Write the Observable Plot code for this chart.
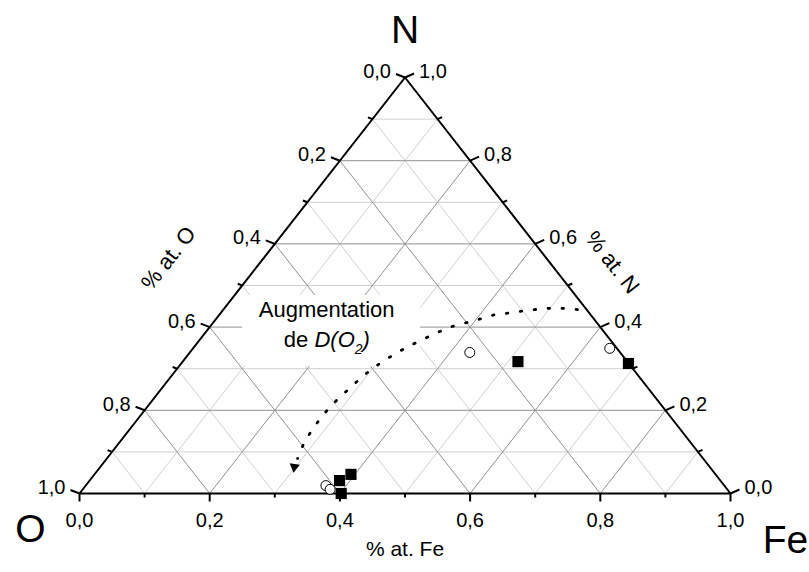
<!DOCTYPE html>
<html>
<head>
<meta charset="utf-8">
<script src="https://cdn.jsdelivr.net/npm/d3@7"></script>
<script src="https://cdn.jsdelivr.net/npm/@observablehq/plot@0.6"></script>
<style>
  html, body { margin: 0; padding: 0; background: white; }
</style>
</head>
<body>
<div id="chart"></div>
<script>
// ---- Data (ternary fractions: Fe, N; O = 1 - Fe - N) ----
const tickValues = [0, 0.1, 0.2, 0.3, 0.4, 0.5, 0.6, 0.7, 0.8, 0.9, 1.0];
const tickLabels = ["0,0", "0,2", "0,4", "0,6", "0,8", "1,0"];
const labelValues = [0, 0.2, 0.4, 0.6, 0.8, 1.0];

const vertexNames = ["O", "Fe", "N"];
const axisTitles = ["% at. Fe", "% at. O", "% at. N"];

// open circles
const circleFe = [0.430, 0.640, 0.369, 0.380];
const circleN  = [0.339, 0.349, 0.019, 0.010];
// filled squares
const squareFe = [0.515, 0.687, 0.384, 0.394, 0.402];
const squareN  = [0.317, 0.3125, 0.031, 0.046, 0.000];

// dotted trend curve "Augmentation de D(O2)"
const trendFe = [0.544, 0.520, 0.498, 0.478, 0.457, 0.438, 0.419, 0.403, 0.386, 0.368,
                 0.355, 0.340, 0.327, 0.315, 0.304, 0.295, 0.289, 0.283, 0.280, 0.281,
                 0.285, 0.293, 0.298];
const trendN  = [0.442, 0.445, 0.445, 0.442, 0.4375, 0.433, 0.428, 0.418, 0.409, 0.399,
                 0.385, 0.368, 0.351, 0.332, 0.310, 0.284, 0.255, 0.224, 0.190, 0.154,
                 0.118, 0.084, 0.064];
const annotationLines = ["Augmentation", "de D(O2)"];

// ---- Layout ----
const W = 809, H = 572;
const mL = 79, mR = 79, mT = 77, mB = 79;
const pxX = W - mL - mR;  // pixels per cartesian x unit
const pxY = H - mT - mB;  // pixels per cartesian y unit

// ternary (Fe, N) -> cartesian
const cx = (fe, n) => fe + n / 2;
const cy = (fe, n) => n;

// grid lines
const grid = [];
for (let i = 1; i <= 9; i++) {
  const t = tickValues[i];
  const major = i % 2 === 0;
  grid.push({a: [0, t], b: [1 - t, t], major});        // N = t
  grid.push({a: [t, 0], b: [t, 1 - t], major});        // Fe = t
  grid.push({a: [1 - t, 0], b: [0, 1 - t], major});    // O = t
}
const gridData = grid.map(g => ({
  x1: cx(...g.a), y1: cy(...g.a), x2: cx(...g.b), y2: cy(...g.b), major: g.major
}));

// ticks: pixel direction per axis (outward)
const tickData = [];
tickValues.forEach((t, i) => {
  const len = i % 2 === 0 ? 1 : 0.5;
  tickData.push({fe: t, n: 0, dx: 0, dy: 8 * len});                 // bottom (Fe)
  tickData.push({fe: 0, n: 1 - t, dx: -9 * len, dy: -3.5 * len});   // left (O)
  tickData.push({fe: 1 - t, n: t, dx: 9 * len, dy: -4 * len});      // right (N)
});
const tickLinks = tickData.map(d => ({
  x1: cx(d.fe, d.n), y1: cy(d.fe, d.n),
  x2: cx(d.fe, d.n) + d.dx / pxX, y2: cy(d.fe, d.n) - d.dy / pxY
}));

const bottomLabels = labelValues.map((t, i) => ({x: cx(t, 0), y: cy(t, 0), label: tickLabels[i]}));
const leftLabels = labelValues.map((t, i) => ({x: cx(0, 1 - t), y: cy(0, 1 - t), label: tickLabels[i]}));
const rightLabels = labelValues.map((t, i) => ({x: cx(1 - t, t), y: cy(1 - t, t), label: tickLabels[i]}));

const outline = [[0, 0], [1, 0], [0, 1], [0, 0]].map(([fe, n]) => ({x: cx(fe, n), y: cy(fe, n)}));

const circles = circleFe.map((fe, i) => ({x: cx(fe, circleN[i]), y: cy(fe, circleN[i])}));
const squares = squareFe.map((fe, i) => ({x: cx(fe, squareN[i]), y: cy(fe, squareN[i])}));
const trend = trendFe.map((fe, i) => ({x: cx(fe, trendN[i]), y: cy(fe, trendN[i])}));
const trendLine = trend.slice(0, -1);
const arrowHead = [trend[trend.length - 1]];

// annotation box (white background behind label)
const box = [{x1: (242 - mL) / pxX, x2: (420 - mL) / pxX, y1: 0.305, y2: 0.476}];

const font = "Liberation Sans, Arial, Helvetica, sans-serif";

const plot = Plot.plot({
  width: W, height: H,
  marginLeft: mL, marginRight: mR, marginTop: mT, marginBottom: mB,
  x: {domain: [0, 1], axis: null},
  y: {domain: [0, 1], axis: null},
  style: {fontFamily: font, background: "white", overflow: "visible"},
  marks: [
    Plot.link(gridData.filter(d => !d.major), {x1: "x1", y1: "y1", x2: "x2", y2: "y2", stroke: "#cfcfcf", strokeWidth: 1}),
    Plot.link(gridData.filter(d => d.major), {x1: "x1", y1: "y1", x2: "x2", y2: "y2", stroke: "#909090", strokeWidth: 1}),
    Plot.rect(box, {x1: "x1", x2: "x2", y1: "y1", y2: "y2", fill: "white"}),
    Plot.line(outline, {x: "x", y: "y", stroke: "black", strokeWidth: 2}),
    Plot.link(tickLinks, {x1: "x1", y1: "y1", x2: "x2", y2: "y2", stroke: "black", strokeWidth: 2}),
    Plot.text(bottomLabels, {x: "x", y: "y", text: "label", dy: 27, fontSize: 20, textAnchor: "middle", fill: "black"}),
    Plot.text(leftLabels, {x: "x", y: "y", text: "label", dx: -14, dy: -6, fontSize: 20, textAnchor: "end", fill: "black"}),
    Plot.text(rightLabels, {x: "x", y: "y", text: "label", dx: 14, dy: -6, fontSize: 20, textAnchor: "start", fill: "black"}),
    // axis titles
    Plot.text([{x: 0.5, y: 0}], {x: "x", y: "y", text: () => axisTitles[0], dy: 56, fontSize: 21, fill: "black"}),
    Plot.text([{x: cx(0, 0.455), y: 0.455}], {x: "x", y: "y", text: () => axisTitles[1], dx: -59, dy: -46, rotate: -52, fontSize: 22, fill: "black"}),
    Plot.text([{x: cx(0.517, 0.483), y: 0.483}], {x: "x", y: "y", text: () => axisTitles[2], dx: 39, dy: -30, rotate: 52, fontSize: 22, fill: "black"}),
    // vertex labels
    Plot.text([{x: cx(0, 0), y: 0}], {x: "x", y: "y", text: () => vertexNames[0], dx: -49, dy: 36, fontSize: 39, fill: "black"}),
    Plot.text([{x: cx(1, 0), y: 0}], {x: "x", y: "y", text: () => vertexNames[1], dx: 55, dy: 47, fontSize: 39, fill: "black"}),
    Plot.text([{x: cx(0, 1), y: 1}], {x: "x", y: "y", text: () => vertexNames[2], dy: -47, fontSize: 39, fill: "black"}),
    // trend curve
    Plot.line(trendLine, {x: "x", y: "y", stroke: "black", strokeWidth: 2.8, strokeDasharray: "1.5 12.5", strokeLinecap: "round", curve: "catmull-rom"}),
    Plot.dot(arrowHead, {x: "x", y: "y", symbol: "triangle", r: 3.8, rotate: 188, fill: "black", stroke: "none"}),
    // annotation
    Plot.text([{x: cx(0.1586, 0.442), y: 0.442}], {x: "x", y: "y", text: () => annotationLines[0], fontSize: 22, fill: "black"}),
    Plot.text([{x: cx(0.196, 0.368), y: 0.368}], {x: "x", y: "y", text: () => annotationLines[1], fontSize: 22, fill: "black"}),
    // data
    Plot.dot(circles, {x: "x", y: "y", r: 5, stroke: "black", strokeWidth: 1, fill: "white"}),
    Plot.dot(squares, {x: "x", y: "y", symbol: "square", r: 6.3, fill: "black", stroke: "none"})
  ]
});

// rich text for "de D(O2)"
d3.select(plot).selectAll("text").filter(function () { return this.textContent === annotationLines[1]; })
  .each(function () {
    const el = d3.select(this);
    el.text(null);
    el.append("tspan").text("de ");
    el.append("tspan").attr("font-style", "italic").text("D(O");
    el.append("tspan").attr("font-style", "italic").attr("font-size", 14).attr("dy", 7).text("2");
    el.append("tspan").attr("font-style", "italic").attr("dy", -7).text(")");
  });

document.getElementById("chart").appendChild(plot);
</script>
</body>
</html>
